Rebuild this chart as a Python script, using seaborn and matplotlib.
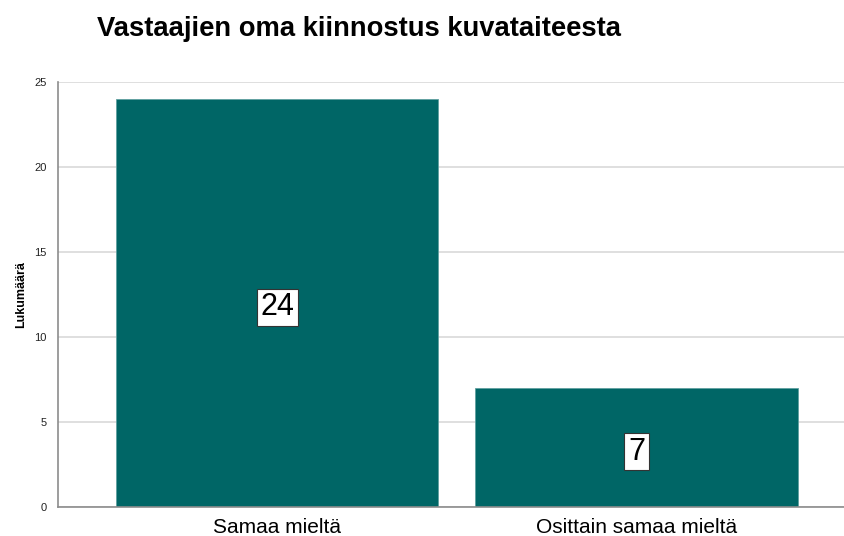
import matplotlib.pyplot as plt
import pandas as pd
import seaborn as sns

categories = ["Samaa mieltä", "Osittain samaa mieltä"]
counts = [24, 7]
yticks = [0, 5, 10, 15, 20, 25]

title = "Vastaajien oma kiinnostus kuvataiteesta"
ylabel = "Lukumäärä"

df = pd.DataFrame({"vastaus": categories, "lukumaara": counts})

sns.set_style("white")
plt.rcParams["font.family"] = ["Liberation Sans", "DejaVu Sans"]
plt.rcParams["text.color"] = "black"
plt.rcParams["axes.labelcolor"] = "black"
plt.rcParams["xtick.color"] = "black"
plt.rcParams["ytick.color"] = "black"

fig = plt.figure(figsize=(8.45, 5.36), dpi=100)
ax = fig.add_axes([0.0686, 0.054, 0.9314, 0.793])

sns.barplot(data=df, x="vastaus", y="lukumaara", color="#006666", saturation=1,
            width=0.897, edgecolor="#5f9f9f", linewidth=0.6, ax=ax, zorder=2)

ax.set_ylim(0, 25)
ax.set_xlim(-0.61, 1.58)
ax.set_yticks(yticks)
ax.set_yticklabels([str(t) for t in yticks], fontsize=8, color="#222222")
ax.tick_params(axis="x", labelsize=15, length=0, pad=8)
ax.tick_params(axis="y", length=0, pad=8)
ax.yaxis.grid(True, color="#d9d9d9", linewidth=1.2, zorder=0)
ax.set_axisbelow(True)
for side in ["top", "right"]:
    ax.spines[side].set_visible(False)
for side in ["left", "bottom"]:
    ax.spines[side].set_color("#8c8c8c")
    ax.spines[side].set_linewidth(1.2)

ax.set_xlabel("")
ax.set_ylabel(ylabel, fontsize=9, fontweight="bold", labelpad=5)

# count labels in white boxes, centred on each bar
for i, v in enumerate(counts):
    ax.text(i, v / 2 - 0.25, str(v), ha="center", va="center", fontsize=22,
            bbox=dict(boxstyle="square,pad=0.12", facecolor="white", edgecolor="#333333", linewidth=0.8),
            zorder=3)

fig.text(0.115, 0.945, title, fontsize=19.7, fontweight="bold", ha="left", va="center")

fig.savefig("out.png", dpi=100)
